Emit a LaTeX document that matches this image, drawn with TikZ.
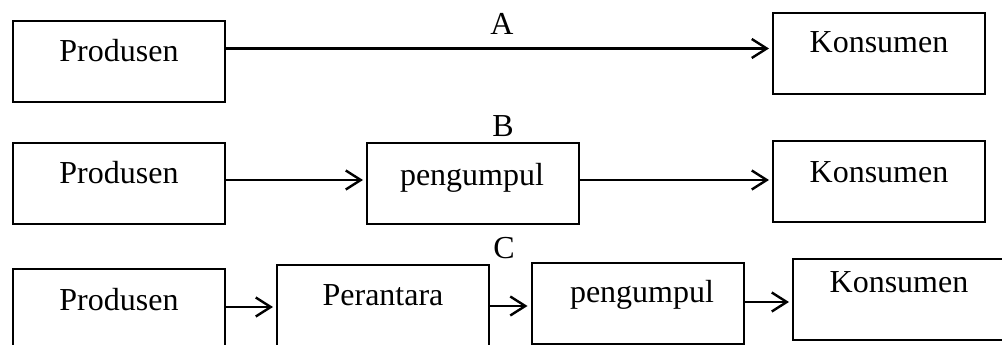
\documentclass[tikz,border=0pt]{standalone}
\usepackage{fontspec}
\setmainfont{Liberation Serif}
\usetikzlibrary{arrows.meta}
\begin{document}
\begin{tikzpicture}[x=1pt,y=-1pt,
  box/.style={draw,line width=2pt,minimum width=212pt,minimum height=81pt,inner sep=0pt},
  lbl/.style={anchor=base,inner sep=0pt,font=\fontsize{32}{38}\selectfont},
  arr/.style={line width=2.4pt,-{Straight Barb[length=15pt,width=19pt,line width=2.4pt]},shorten >=3pt}]
\useasboundingbox (0,0) rectangle (1002,345);
\clip (0,0) rectangle (1002,345);
% Row A
\node[box] (pA) at (119,61.5) {};
\node[box] (kA) at (879,53.5) {};
\node[lbl] (tpA) at (119,62) {Produsen};
\node[lbl] (tkA) at (879,53) {Konsumen};
\node[lbl] (la) at (502,35) {A};
\draw[arr] (pA.east|-0,48.5) -- (kA.west|-0,48.5);
% Row B
\node[box] (pB) at (119,183.5) {};
\node[box] (gB) at (473,183) {};
\node[box] (kB) at (879,181.5) {};
\node[lbl] (tpB) at (119,183) {Produsen};
\node[lbl] (tgB) at (472,185) {pengumpul};
\node[lbl] (tkB) at (879,182) {Konsumen};
\node[lbl] (lb) at (503,136) {B};
\draw[arr] (pB.east|-0,180) -- (gB.west|-0,180);
\draw[arr] (gB.east|-0,180) -- (kB.west|-0,180);
% Row C
\node[box] (pC) at (119,309.5) {};
\node[box] (rC) at (383,305.5) {};
\node[box] (gC) at (637.5,303) {};
\node[box] (kC) at (899,299) {};
\node[lbl] (tpC) at (119,310) {Produsen};
\node[lbl] (trC) at (383,305) {Perantara};
\node[lbl] (tgC) at (642,302) {pengumpul};
\node[lbl] (tkC) at (899,292) {Konsumen};
\node[lbl] (lc) at (504,258) {C};
\draw[arr] (pC.east|-0,307) -- (rC.west|-0,307);
\draw[arr] (rC.east|-0,306) -- (gC.west|-0,306);
\draw[arr] (gC.east|-0,302) -- (kC.west|-0,302);
\end{tikzpicture}
\end{document}
